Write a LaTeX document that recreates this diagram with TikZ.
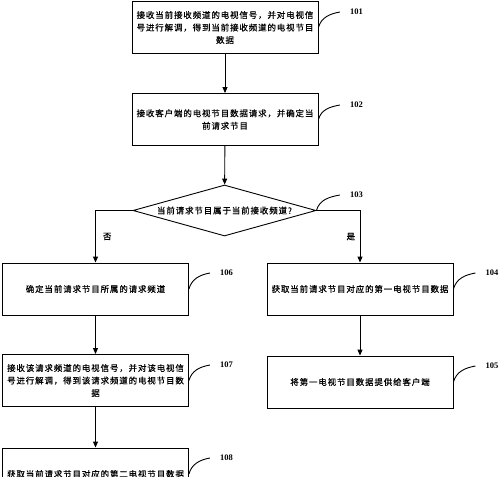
\documentclass[tikz,border=0pt]{standalone}
\usepackage{fontspec}
\usepackage{tikz}
\usetikzlibrary{shapes.geometric, positioning, arrows.meta}
\newfontfamily\cjk[LetterSpace=10, FakeBold=0.4]{Noto Sans CJK SC}
\newfontfamily\numfont{Liberation Serif}

\begin{document}
\begin{tikzpicture}[x=1pt, y=1pt,
    stepbox/.style={draw, line width=0.9pt, minimum width=186pt, minimum height=52pt,
        inner sep=2pt, align=center, font=\cjk\fontsize{8.5}{12.5}\selectfont},
    decision/.style={diamond, draw, line width=0.9pt, aspect=3.6, inner sep=0pt,
        minimum width=183pt, minimum height=51pt, font=\cjk\fontsize{8.5}{12.5}\selectfont},
    steplabel/.style={font=\numfont\bfseries\fontsize{8.5}{10}\selectfont, inner sep=0pt},
    branch/.style={font=\cjk\fontsize{8.5}{10}\selectfont, inner sep=0pt},
    flow/.style={-{Triangle[length=6pt, width=5pt]}, line width=0.9pt},
    tag/.style={line width=0.9pt}]
    \useasboundingbox (0,0) rectangle (500,-476);
    % Steps
    \node[stepbox] (s101) at (225,-27.5) {接收当前接收频道的电视信号，并对电视信\\号进行解调，得到当前接收频道的电视节目\\数据};
    \node[stepbox] (s102) at (225,-119.5) {接收客户端的电视节目数据请求，并确定当\\前请求节目};
    \node[decision] (s103) at (224.5,-210.5) {当前请求节目属于当前接收频道?};
    \node[stepbox] (s104) at (360,-289) {获取当前请求节目对应的第一电视节目数据};
    \node[stepbox] (s105) at (360,-382) {将第一电视节目数据提供给客户端};
    \node[stepbox] (s106) at (95.5,-289) {确定当前请求节目所属的请求频道};
    \node[stepbox] (s107) at (95.5,-380.5) {接收该请求频道的电视信号，并对该电视信\\号进行解调，得到该请求频道的电视节目数\\据};
    \node[stepbox] (s108) at (95.5,-474) {获取当前请求节目对应的第二电视节目数据};

    % Step numbers
    \node[steplabel] (l101) at (356.5,-12) {101};
    \node[steplabel] (l102) at (356.5,-105) {102};
    \node[steplabel] (l103) at (356.5,-195) {103};
    \node[steplabel] (l104) at (492,-273) {104};
    \node[steplabel] (l105) at (492,-366) {105};
    \node[steplabel] (l106) at (226.5,-273) {106};
    \node[steplabel] (l107) at (226.5,-365) {107};
    \node[steplabel] (l108) at (226.5,-458) {108};
    \foreach \s in {101,102,103,104,105,106,107,108}
        \draw[tag] (s\s.east) to[out=75, in=190] ([xshift=-10pt]l\s.west);

    % Flow
    \draw[flow] (s101) -- (s102);
    \draw[flow] (s102) -- (s103);
    \draw[flow] (s103.west) -| node[branch, pos=0.75, right=7pt] {否} (s106.north);
    \draw[flow] (s103.east) -| node[branch, pos=0.75, left=4.5pt] {是} (s104.north);
    \draw[flow] (s104) -- (s105);
    \draw[flow] (s106) -- (s107);
    \draw[flow] (s107) -- (s108);
\end{tikzpicture}
\end{document}
